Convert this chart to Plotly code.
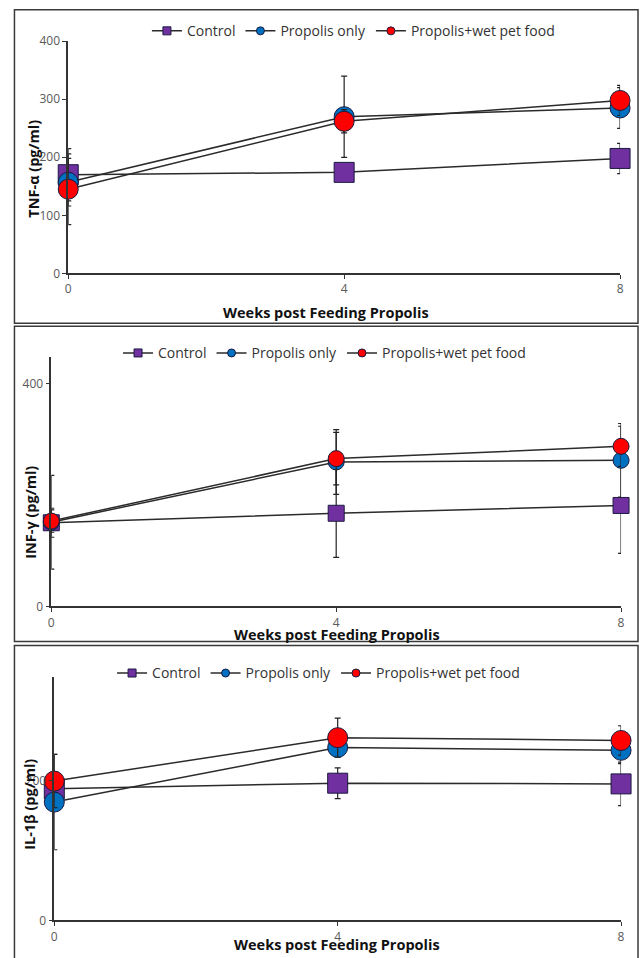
import plotly.graph_objects as go

W, H = 642, 958

# ---------------- data ----------------
weeks = [0, 4, 8]
series_names = ["Control", "Propolis only", "Propolis+wet pet food"]

# Panel 1: TNF-alpha
tnf_control = [170, 174, 198]
tnf_control_err = [45, 8, 26]
tnf_prop = [157, 270, 285]
tnf_prop_err = [41, 70, 35]
tnf_wet = [145, 262, 298]
tnf_wet_err = [61, 20, 26]

# Panel 2: INF-gamma
inf_control = [150, 167, 181]
inf_control_err = [26, 79, 86]
inf_prop = [151, 259, 262]
inf_prop_err = [84, 58, 66]
inf_wet = [153, 265, 287]
inf_wet_err = [20, 47, 36]

# Panel 3: IL-1beta
il_control = [188, 196, 195]
il_control_err = [15, 22, 31]
il_prop = [169, 247, 243]
il_prop_err = [68, 10, 19]
il_wet = [199, 261, 257]
il_wet_err = [38, 28, 21]

x_ticks = [0, 4, 8]
tnf_yticks = [0, 100, 200, 300, 400]
inf_yticks = [0, 400]
il_yticks = [0, 200]

y_titles = ["TNF-α (pg/ml)", "INF-γ (pg/ml)", "IL-1β (pg/ml)"]
x_title = "Weeks post Feeding Propolis"

colors = ["#7030A0", "#0070C0", "#FF0000"]
symbols = ["square", "circle", "circle"]

# ---------------- layout helpers ----------------
# pixel targets -> paper fractions (with a small correction for the capture)
def px_x(p):
    q = (p - 1.5) / 0.993
    return min(max(q / W, 0.0), 1.0)

def px_y(p):
    q = (p - 8.75) / 0.982
    return 1 - q / H

panels = [
    dict(data=[(tnf_control, tnf_control_err), (tnf_prop, tnf_prop_err), (tnf_wet, tnf_wet_err)],
         xdom=[67, 621], ydom=[273, 41], yrange=[0, 400], yticks=tnf_yticks, msize=20,
         leg=(146, 31), ytitle_pos=(32, 168), xtitle_pos=(326, 312), box=(9.6, 323)),
    dict(data=[(inf_control, inf_control_err), (inf_prop, inf_prop_err), (inf_wet, inf_wet_err)],
         xdom=[50, 622], ydom=[606, 357], yrange=[0, 446.6], yticks=inf_yticks, msize=16,
         leg=(117, 353), ytitle_pos=(29, 512), xtitle_pos=(337, 634), box=(326, 641)),
    dict(data=[(il_control, il_control_err), (il_prop, il_prop_err), (il_wet, il_wet_err)],
         xdom=[53, 622], ydom=[920, 677], yrange=[0, 347], yticks=il_yticks, msize=20,
         leg=(111, 673), ytitle_pos=(28, 804), xtitle_pos=(337, 944), box=(645, 975)),
]

fig = go.Figure()
annotations = []
shapes = []

for i, p in enumerate(panels):
    k = "" if i == 0 else str(i + 1)
    xa, ya = "x" + k, "y" + k
    legname = "legend" + k
    for j, (vals, errs) in enumerate(p["data"]):
        fig.add_trace(go.Scatter(
            x=weeks, y=vals, xaxis=xa, yaxis=ya,
            mode="lines+markers", showlegend=False, cliponaxis=False,
            line=dict(color="#2b2b2b", width=1.5),
            marker=dict(symbol=symbols[j], size=p["msize"], color=colors[j],
                        line=dict(color="#1a1a40", width=1)),
            error_y=dict(type="data", array=errs, visible=True, color="#222222",
                         thickness=1.2, width=3),
        ))
    # legend entries
    for j in range(3):
        fig.add_trace(go.Scatter(
            x=[None], y=[None], xaxis=xa, yaxis=ya, name=series_names[j],
            mode="lines+markers", legend=legname, showlegend=True,
            line=dict(color="#2b2b2b", width=1.5),
            marker=dict(symbol=symbols[j], size=8, color=colors[j],
                        line=dict(color="#1a1a40", width=1)),
        ))
    axis_common = dict(showline=True, linecolor="#333333", linewidth=1.5, ticks="outside",
                       ticklen=4, tickcolor="#333333", showgrid=False, zeroline=False,
                       tickfont=dict(family="Open Sans", size=12, color="#595959"))
    fig.layout["xaxis" + k] = dict(domain=[px_x(p["xdom"][0]), px_x(p["xdom"][1])],
                                   range=[0, 8], anchor=ya, tickvals=x_ticks, **axis_common)
    fig.layout["yaxis" + k] = dict(domain=[px_y(p["ydom"][0]), px_y(p["ydom"][1])],
                                   range=p["yrange"], anchor=xa, tickvals=p["yticks"], **axis_common)
    fig.layout[legname] = dict(orientation="h", x=px_x(p["leg"][0]), y=px_y(p["leg"][1]),
                               xanchor="left", yanchor="middle", bgcolor="rgba(0,0,0,0)",
                               font=dict(family="Open Sans", size=14, color="#333333"),
                               itemsizing="trace")
    annotations.append(dict(text=y_titles[i], xref="paper", yref="paper",
                            x=px_x(p["ytitle_pos"][0]), y=px_y(p["ytitle_pos"][1]),
                            textangle=-90, showarrow=False, xanchor="center", yanchor="middle",
                            font=dict(family="Open Sans", size=14.5, color="#111111", weight="bold")))
    annotations.append(dict(text=x_title, xref="paper", yref="paper",
                            x=px_x(p["xtitle_pos"][0]), y=px_y(p["xtitle_pos"][1]),
                            showarrow=False, xanchor="center", yanchor="middle",
                            font=dict(family="Open Sans", size=14.5, color="#111111", weight="bold")))
    shapes.append(dict(type="rect", xref="paper", yref="paper",
                       x0=px_x(13), x1=px_x(640), y0=px_y(p["box"][1]), y1=px_y(p["box"][0]),
                       line=dict(color="#3a3a3a", width=1.5)))

fig.update_layout(width=W, height=H, margin=dict(l=0, r=0, t=0, b=0),
                  paper_bgcolor="white", plot_bgcolor="white",
                  annotations=annotations, shapes=shapes)

post = ("document.documentElement.style.margin='0';document.body.style.margin='0';"
        "document.body.style.overflow='hidden';document.documentElement.style.overflow='hidden';"
        "var d=document.getElementById('{plot_id}');d.style.position='fixed';"
        "d.style.top='0px';d.style.left='0px';window.scrollTo(0,0);")

fig.write_html("out.html", config={"displayModeBar": False}, post_script=post)
